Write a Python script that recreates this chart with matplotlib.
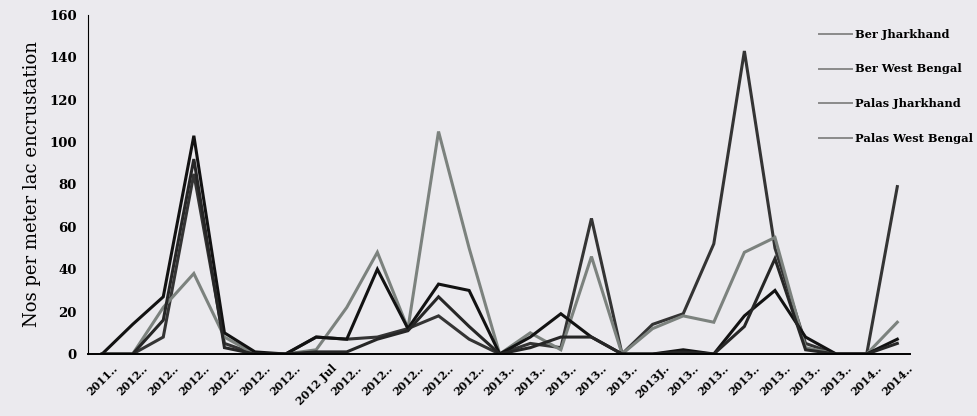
import matplotlib.pyplot as plt
import numpy as np

plt.rcParams['font.family'] = ['DejaVu Serif']
plt.rcParams['font.weight'] = 'bold'

# sampling dates along the x axis (labels as they appear, truncated)
dates = ["2011..", "2012..", "2012..", "2012..", "2012..", "2012..", "2012..",
         "2012 Jul", "2012..", "2012..", "2012..", "2012..", "2012..",
         "2013..", "2013..", "2013..", "2013..", "2013..", "2013J..",
         "2013..", "2013..", "2013..", "2013..", "2013..", "2013..",
         "2014..", "2014.."]

ber_jharkhand = [0, 0, 8, 85, 5, 0, 0, 8, 7, 8, 12, 18, 7, 0, 5, 3, 64, 0,
                 14, 19, 52, 143, 50, 5, 0, 0, 79]
ber_west_bengal = [0, 0, 22, 38, 8, 0, 0, 2, 22, 48, 12, 105, 50, 0, 10, 2, 46, 0,
                   12, 18, 15, 48, 55, 3, 0, 0, 15]
palas_jharkhand = [0, 14, 27, 103, 10, 1, 0, 8, 7, 40, 12, 33, 30, 0, 8, 19, 8, 0,
                   0, 2, 0, 18, 30, 8, 0, 0, 7]
palas_west_bengal = [0, 0, 16, 92, 3, 0, 0, 1, 1, 7, 11, 27, 13, 0, 3, 8, 8, 0,
                     0, 1, 0, 13, 45, 2, 0, 0, 5]

series = [("Ber Jharkhand", ber_jharkhand, '#343434'),
          ("Ber West Bengal", ber_west_bengal, '#7c827e'),
          ("Palas Jharkhand", palas_jharkhand, '#121212'),
          ("Palas West Bengal", palas_west_bengal, '#262626')]

paper = '#ebeaee'
fig = plt.figure(figsize=(9.78, 4.16), dpi=100, facecolor=paper)
ax = fig.add_axes([0.090, 0.149, 0.840, 0.815])
ax.set_facecolor(paper)

x = np.arange(len(dates))
for name, vals, col in series:
    ax.plot(x, vals, color=col, lw=2.2, label=name, solid_joinstyle='miter')

ax.set_xlim(-0.46, len(dates) - 0.6)
ax.set_ylim(0, 160)
ax.set_yticks(range(0, 161, 20))
ax.tick_params(axis='y', length=0, pad=8, labelsize=9.5)
ax.set_xticks(x)
ax.set_xticklabels(dates, rotation=45, ha='center', va='top', fontsize=8)
ax.tick_params(axis='x', length=0, pad=6)

ax.spines['top'].set_visible(False)
ax.spines['right'].set_visible(False)
ax.spines['left'].set_linewidth(0.8)
ax.spines['bottom'].set_linewidth(1.4)

ax.set_ylabel("Nos per meter lac encrustation", fontsize=13, labelpad=6)

leg = fig.legend(loc='upper left', bbox_to_anchor=(0.832, 0.945), frameon=False,
                 fontsize=8.2, handlelength=2.9, handletextpad=0.2,
                 labelspacing=2.1, borderpad=0)
for ln in leg.get_lines():
    ln.set_linewidth(1.4)
    ln.set_color('#8a8a8a')

plt.savefig("out.png", dpi=100, facecolor=paper)
